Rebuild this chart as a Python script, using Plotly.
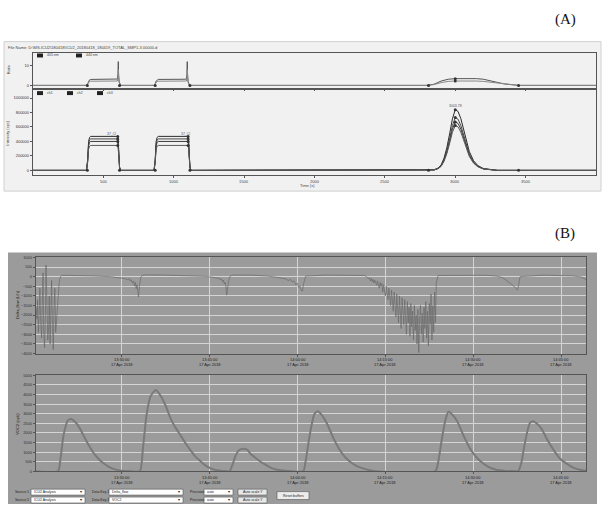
import plotly.graph_objects as go

W, H = 603, 506

# ---------------- Panel A data ----------------
a_ticks = [500, 1000, 1500, 2000, 2500, 3000, 3500]
a_top_ticks = [0, 10]
a_bot_ticks = [0, 200000, 400000, 600000, 800000, 1000000]

# shared time base for intensity traces (s)
a_time = [0, 380, 388, 395, 402, 410, 600, 605, 610, 615, 622,
          860, 868, 875, 882, 890, 1100, 1105, 1110, 1115, 1122,
          2800, 2850, 2880, 2900, 2920, 2940, 2960, 2980, 3000, 3020, 3040,
          3060, 3080, 3100, 3130, 3160, 3200, 3250, 3300, 4000]
int_1 = [0, 0, 141000, 400000, 456000, 470000, 470000, 423000, 235000, 47000, 0,
         0, 141000, 400000, 456000, 470000, 470000, 423000, 235000, 47000, 0,
         0, 8000, 34000, 76000, 168000, 311000, 504000, 714000, 840000, 815000, 714000,
         554000, 395000, 260000, 134000, 67000, 25000, 8000, 0, 0]
int_2 = [0, 0, 130000, 370000, 422000, 435000, 435000, 392000, 218000, 44000, 0,
         0, 130000, 370000, 422000, 435000, 435000, 392000, 218000, 44000, 0,
         0, 7000, 29000, 66000, 146000, 270000, 438000, 620000, 730000, 708000, 620000,
         482000, 343000, 226000, 117000, 58000, 22000, 7000, 0, 0]
int_3 = [0, 0, 120000, 340000, 388000, 400000, 400000, 360000, 200000, 40000, 0,
         0, 120000, 340000, 388000, 400000, 400000, 360000, 200000, 40000, 0,
         0, 7000, 27000, 60000, 134000, 248000, 402000, 570000, 670000, 650000, 570000,
         442000, 315000, 208000, 107000, 54000, 20000, 7000, 0, 0]
int_4 = [0, 0, 104000, 293000, 335000, 345000, 345000, 311000, 173000, 35000, 0,
         0, 104000, 293000, 335000, 345000, 345000, 311000, 173000, 35000, 0,
         0, 6000, 25000, 56000, 124000, 229000, 372000, 527000, 620000, 601000, 527000,
         409000, 291000, 192000, 99000, 50000, 19000, 6000, 0, 0]
# integration markers (baseline limits, plateau ends, apexes)
int_mark_t = [386, 615, 868, 1115, 2810, 3450, 602, 602, 602, 602, 1102, 1102, 1102, 1102,
              3000, 3000, 3000, 3000]
int_mark_v = [0, 0, 0, 0, 0, 0, 470000, 435000, 400000, 345000, 470000, 435000, 400000, 345000,
              840000, 730000, 670000, 620000]

# ratio traces (top strip of panel A)
r_time = [0, 380, 388, 395, 402, 410, 590, 600, 604, 606, 608, 612, 618, 622,
          860, 868, 875, 882, 890, 1080, 1090, 1094, 1096, 1098, 1102, 1108, 1112,
          2800, 2850, 2900, 2950, 3000, 3050, 3100, 3150, 3200, 3250, 3300, 3350, 3450, 4000]
ratio_1 = [0, 0, 0.8, 2.2, 2.8, 3.0, 3.1, 3.2, 6, 12, 6, 2, 0.5, 0,
           0, 0.8, 2.2, 2.8, 3.0, 3.1, 3.2, 6, 12, 6, 2, 0.5, 0,
           0, 0.6, 2.2, 3.1, 3.4, 3.5, 3.5, 3.4, 3.1, 2.4, 1.5, 0.7, 0, 0]
ratio_2 = [0, 0, 0.6, 1.6, 2.0, 2.1, 2.1, 2.2, 4, 8, 4, 1.5, 0.4, 0,
           0, 0.6, 1.6, 2.0, 2.1, 2.1, 2.2, 4, 8, 4, 1.5, 0.4, 0,
           0, 0.4, 1.4, 2.0, 2.2, 2.3, 2.3, 2.2, 2.0, 1.6, 1.0, 0.5, 0, 0]
ratio_mark_t = [386, 615, 868, 1115, 2810, 3450, 3000, 3000]
ratio_mark_v = [0, 0, 0, 0, 0, 0, 3.4, 2.2]

# ---------------- Panel B data (minutes after 13:00) ----------------
b_tickvals = [30, 45, 60, 75, 90, 105]
b_ticktimes = ["13:30:00", "13:45:00", "14:00:00", "14:15:00", "14:30:00", "14:45:00"]
b_tickdate = "17 Apr 2018"
flow_ticks = [1000, 500, 0, -500, -1000, -1500, -2000, -2500, -3000, -3500, -4000]
voc_ticks = [0, 500, 1000, 1500, 2000, 2500, 3000, 3500, 4000, 4500, 5000]

flow_t = [15.35, 15.5, 15.6, 15.75, 15.9, 16.0, 16.15, 16.3, 16.4, 16.55, 16.65, 16.8,
          16.95, 17.05, 17.2, 17.35, 17.5, 17.6, 17.75, 17.9, 18.0, 18.15, 18.3, 18.4,
          18.55, 18.7, 18.9, 19.1, 19.3, 19.5, 19.8, 22, 25, 28, 29.5, 30.5,
          31.0, 31.2, 31.4, 31.6, 31.8, 32.0, 32.15, 32.3, 32.45, 32.6, 32.75, 32.85,
          33.0, 33.2, 33.45, 33.9, 37, 41, 44, 45.5,
          46.4, 46.6, 46.8, 47.0, 47.2, 47.35, 47.5, 47.65, 47.8, 47.9, 48.05, 48.25, 48.5,
          48.9, 52, 55, 57, 58.0, 58.4, 58.8, 59.1, 59.4, 59.7, 59.95, 60.2, 60.4, 60.6,
          60.85, 61.05, 61.4, 65, 69, 71.5,
          72.0, 72.15, 72.3, 72.45, 72.6, 72.75, 72.9, 73.05, 73.2, 73.35, 73.5, 73.65, 73.8,
          73.95, 74.1, 74.25, 74.4, 74.55, 74.7, 74.85, 75.0, 75.15, 75.3, 75.45, 75.6, 75.75,
          75.9, 76.05, 76.2, 76.35, 76.5, 76.65, 76.8, 76.95, 77.1, 77.25, 77.4, 77.55, 77.7,
          77.85, 78.0, 78.15, 78.3, 78.45, 78.6, 78.75, 78.9, 79.05, 79.2, 79.35, 79.5, 79.65,
          79.8, 79.95, 80.1, 80.25, 80.4, 80.55, 80.7, 80.85, 81.0, 81.15, 81.3, 81.45, 81.6,
          81.75, 81.9, 82.05, 82.2, 82.35, 82.5, 82.65, 82.8, 82.95, 83.1, 83.25, 83.4, 83.55,
          83.7, 84.0, 88, 92, 94, 95, 95.5, 95.8, 96.1, 96.4, 96.65, 96.9, 97.1, 97.3, 97.55,
          97.75, 98.0, 102, 105, 107, 108.5, 109.26]
flow_v = [-1600, -2200, -1200, -2900, -1800, -600, -2400, -3200, -1500, 200, -2800, -3700,
          -1900, 600, -1200, -3300, -2600, -1000, -3500, -2100, -200, -2600, -3800, -1800,
          -600, -2900, -2200, -1200, -300, 0, 70, 65, 40, 0, -40, -100,
          -160, -90, -220, -150, -330, -230, -480, -300, -620, -420, -850, -1060,
          -500, -50, 60, 90, 85, 60, 20, -30,
          -90, -60, -170, -110, -260, -180, -380, -300, -560, -960, -650, -200, 40,
          85, 80, 30, -60, -120, -200, -150, -280, -220, -420, -330, -560, -470, -700,
          -750, -350, 30, 85, 85, 60, -60,
          -120, -60, -220, -100, -260, -140, -330, -180, -300, -450, -220, -380, -600,
          -300, -520, -350, -800, -420, -650, -1000, -500, -780, -1200, -600, -950, -1500,
          -700, -1100, -1800, -800, -1300, -2100, -900, -1600, -2400, -1000, -1800, -2700, -1100,
          -2000, -2500, -1200, -2200, -3000, -1300, -2400, -1600, -3100, -1400, -2600, -1800, -3300,
          -1500, -2800, -2000, -3500, -1700, -3950, -2200, -1500, -3000, -1900, -3400, -1600, -2700,
          -1300, -3200, -1800, -3600, -1400, -2500, -900, -3300, -1500, -2900, -800, -2400, -300,
          60, 85, 75, 30, -50, -150, -220, -260, -350, -400, -480, -550, -620, -700, -450,
          0, 80, 75, 40, -20, -150, -280]

voc_t = [15.34, 19.09, 19.5, 19.95, 20.4, 20.8, 21.31, 22.0, 22.8, 23.9, 25.0, 25.8, 26.6,
         27.7, 29.0, 30.3, 31.5,
         33.07, 33.6, 34.2, 34.9, 35.8, 36.6, 37.5, 38.35, 39.2, 40.06, 40.9, 41.76, 42.6,
         43.47, 44.3, 45.17, 46.5, 48.0,
         48.41, 48.9, 49.4, 50.0, 50.8, 51.5, 52.0, 52.9, 53.7, 54.6, 55.4, 56.3, 57.5, 59.0,
         60.97, 61.36, 61.93, 62.5, 62.9, 63.46, 64.09, 65.06, 66.19, 67.33, 68.18, 69.03,
         70.06, 71.3, 72.27, 73.3,
         83.52, 84.03, 84.6, 85.17, 85.57, 85.79, 86.42, 87.22, 88.35, 89.49, 90.34, 91.19,
         92.6, 93.92, 95.45, 97.16,
         97.67, 98.2, 98.75, 99.3, 99.7, 100.23, 100.9, 101.7, 102.8, 104.0, 104.8, 105.7,
         107.1, 108.4, 109.26]
voc_v = [0, 0, 600, 1700, 2350, 2650, 2725, 2580, 2250, 1600, 1030, 720, 480,
         250, 90, 20, 0,
         0, 1200, 2900, 3900, 4240, 3950, 3400, 2730, 2250, 1860, 1450, 1080, 750,
         515, 300, 150, 40, 0,
         0, 350, 800, 1100, 1174, 1100, 900, 680, 500, 330, 190, 100, 40, 0,
         0, 486, 1600, 2554, 2990, 3123, 2950, 2466, 1690, 1055, 720, 486,
         280, 140, 60, 0,
         0, 500, 1600, 2550, 2990, 3107, 2950, 2637, 1862, 1174, 800, 538,
         228, 80, 20, 0,
         0, 420, 1350, 2150, 2520, 2606, 2480, 2200, 1560, 990, 670, 450,
         190, 70, 30]


def X(px):
    return px / W


def Y(py):
    return 1 - py / H


FONT = "Liberation Sans, Arial, sans-serif"
fig = go.Figure()

a_col = ["#2a2a2a", "#4a4a4a", "#3a3a3a", "#5a5a5a"]
for vals, c in zip([int_1, int_2, int_3, int_4], a_col):
    fig.add_trace(go.Scatter(x=a_time, y=vals, mode="lines", xaxis="x2", yaxis="y2",
                             line=dict(color=c, width=1), showlegend=False))
fig.add_trace(go.Scatter(x=int_mark_t, y=int_mark_v, mode="markers", xaxis="x2", yaxis="y2",
                         marker=dict(color="#333", size=3), showlegend=False))
for vals, c in zip([ratio_1, ratio_2], ["#555", "#888"]):
    fig.add_trace(go.Scatter(x=r_time, y=vals, mode="lines", xaxis="x", yaxis="y",
                             line=dict(color=c, width=1), showlegend=False))
fig.add_trace(go.Scatter(x=ratio_mark_t, y=ratio_mark_v, mode="markers", xaxis="x", yaxis="y",
                         marker=dict(color="#333", size=3), showlegend=False))

fig.add_trace(go.Scatter(x=flow_t, y=flow_v, mode="lines", xaxis="x3", yaxis="y3",
                         line=dict(color="#6a6a6a", width=0.7), showlegend=False))
fig.add_trace(go.Scatter(x=voc_t, y=voc_v, mode="lines", xaxis="x4", yaxis="y4",
                         line=dict(color="#7a7a7a", width=2, shape="spline", smoothing=0.6),
                         showlegend=False))

tick_font = dict(family=FONT, size=4, color="#333")
ax_common = dict(showline=True, linecolor="#555", linewidth=1.3, mirror=True,
                 zeroline=False, ticks="outside", ticklen=2, tickcolor="#555",
                 tickfont=tick_font)

fig.update_layout(
    width=W, height=H, margin=dict(l=0, r=0, t=0, b=0),
    paper_bgcolor="white", plot_bgcolor="white",
    xaxis=dict(domain=[X(33), X(596)], range=[0, 4000], anchor="y",
               showticklabels=False, showgrid=False, tickvals=a_ticks, **ax_common),
    yaxis=dict(domain=[Y(86), Y(50)], range=[-1.4, 16.6], anchor="x",
               tickvals=a_top_ticks, showgrid=False, **ax_common),
    xaxis2=dict(domain=[X(33), X(596)], range=[0, 4000], anchor="y2",
                tickvals=a_ticks, showticklabels=False, showgrid=False, **ax_common),
    yaxis2=dict(domain=[Y(174), Y(88)], range=[-68000, 1110000], anchor="x2",
                tickvals=a_bot_ticks, ticktext=[str(v) for v in a_bot_ticks],
                showgrid=False, **ax_common),
    xaxis3=dict(domain=[X(36), X(586)], range=[15.34, 109.26], anchor="y3",
                tickvals=b_tickvals, showticklabels=False, showgrid=True,
                gridcolor="#d4d4d4", gridwidth=0.8, **ax_common),
    yaxis3=dict(domain=[Y(354), Y(257)], range=[-4000, 1000], anchor="x3",
                tickvals=flow_ticks, showgrid=True, gridcolor="#d4d4d4", gridwidth=0.8,
                **ax_common),
    xaxis4=dict(domain=[X(36), X(586)], range=[15.34, 109.26], anchor="y4",
                tickvals=b_tickvals, showticklabels=False, showgrid=True,
                gridcolor="#d4d4d4", gridwidth=0.8, **ax_common),
    yaxis4=dict(domain=[Y(473), Y(376)], range=[0, 5000], anchor="x4",
                tickvals=voc_ticks, showgrid=True, gridcolor="#d4d4d4", gridwidth=0.8,
                **ax_common),
)

shapes = []
# Panel A backdrop
shapes.append(dict(type="rect", xref="paper", yref="paper", x0=X(4), x1=X(601), y0=Y(190), y1=Y(39),
                   fillcolor="#f1f1f1", line=dict(color="#d0d0d0", width=1), layer="below"))
# Panel B grey window
shapes.append(dict(type="rect", xref="paper", yref="paper", x0=X(8), x1=X(597), y0=Y(506), y1=Y(252),
                   fillcolor="#9b9b9b", line=dict(color="#8a8a8a", width=0), layer="below"))

ann = []


def txt(text, px, py, size=4, color="#444", xa="center", ya="middle", angle=0, family=FONT):
    ann.append(dict(text=text, x=X(px), y=Y(py), xref="paper", yref="paper",
                    xanchor=xa, yanchor=ya, textangle=angle, showarrow=False,
                    font=dict(family=family, size=size, color=color)))


txt("(A)", 565, 17, size=15, color="#111", family="Liberation Serif, serif")
txt("(B)", 565, 233, size=15, color="#111", family="Liberation Serif, serif")
txt("File Name: D:\\MS-ICU2\\180418\\ICU2_20180418_180419_TOTAL_SMP1-3 00000.d",
    6, 45, size=4, xa="left")

# x tick labels placed just under the axes via the axes' own scales
for tv in a_ticks:
    ann.append(dict(text=str(tv), x=tv, xref="x2", y=Y(175.5), yref="paper",
                    xanchor="center", yanchor="top",
                    showarrow=False, font=dict(family=FONT, size=4, color="#444")))
for tv, tt in zip(b_tickvals, b_ticktimes):
    for xr, py in (("x3", 355.5), ("x4", 474.5)):
        ann.append(dict(text=tt + "<br>" + b_tickdate, x=tv, xref=xr, y=Y(py), yref="paper",
                        xanchor="center", yanchor="top", showarrow=False,
                        font=dict(family=FONT, size=4, color="#222")))

# small legends in panel A
leg_top = [(37, "405 nm"), (76, "440 nm")]
for px, t in leg_top:
    shapes.append(dict(type="rect", xref="paper", yref="paper", x0=X(px), x1=X(px + 6),
                       y0=Y(55), y1=Y(51), fillcolor="#222", line=dict(width=0)))
    txt(t, px + 8, 53, size=3.5, xa="left")
leg_bot = [(37, "ch1"), (67, "ch2"), (97, "ch3")]
for px, t in leg_bot:
    shapes.append(dict(type="rect", xref="paper", yref="paper", x0=X(px), x1=X(px + 6),
                       y0=Y(93), y1=Y(89), fillcolor="#222", line=dict(width=0)))
    txt(t, px + 8, 91, size=3.5, xa="left")
# peak labels
for xv, yv, t in [(560, 510000, "37_Cl"), (1080, 510000, "37_Cl"), (3000, 890000, "3003.78")]:
    ann.append(dict(text=t, x=xv, y=yv, xref="x2", yref="y2", xanchor="center",
                    yanchor="middle", showarrow=False,
                    font=dict(family=FONT, size=3.5, color="#555")))
txt("Ratio", 8, 67, angle=-90)
txt("Intensity (cps)", 8, 131, angle=-90)
txt("Time (s)", 307, 184)
txt("Delta_flow (L/h)", 18, 305, color="#222", angle=-90)
txt("VOC2 (ppb)", 18, 425, color="#222", angle=-90)


def box(x0, x1, yc, h, fill="white"):
    shapes.append(dict(type="rect", xref="paper", yref="paper", x0=X(x0), x1=X(x1),
                       y0=Y(yc + h / 2), y1=Y(yc - h / 2), fillcolor=fill,
                       line=dict(color="#555", width=0.6)))


def label(t, x, yc, anchor="left", size=3.5):
    txt(t, x, yc, size=size, color="#222", xa=anchor)


rows = [(494, "Source 1", "Data Key 1", "Delta_flow"), (502, "Source 2", "Data Key 2", "VOC2")]
for yc, s, dk, key in rows:
    label(s, 13, yc)
    box(31, 85, yc, 6)
    label("ICU2 Analysis", 32, yc)
    label("▾", 84, yc, anchor="right")
    label(dk, 90, yc)
    box(109, 183, yc, 6)
    label(key, 110, yc)
    label("▾", 182, yc, anchor="right")
    label("Precision", 188, yc)
    box(204, 233, yc, 6)
    label("auto", 205, yc)
    label("▾", 232, yc, anchor="right")
    box(238, 267, yc, 6, fill="#e8e8e8")
    label("Auto scale Y", 252.5, yc, anchor="center")
box(277, 309, 497.5, 8, fill="#ececec")
label("Reset buffers", 293, 497.5, anchor="center")

fig.update_layout(shapes=shapes, annotations=ann)
fig.write_html("out.html", config={"displayModeBar": False},
               post_script="document.body.style.margin='0px';")
